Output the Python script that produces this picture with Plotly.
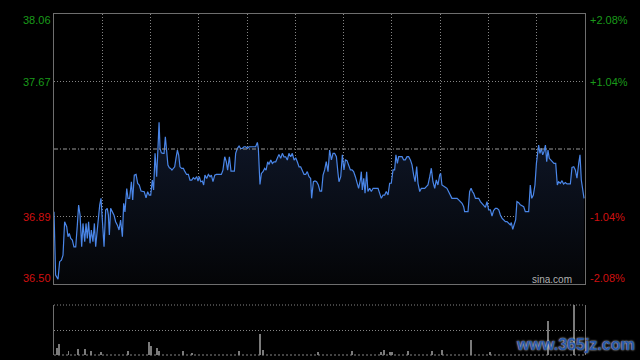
import plotly.graph_objects as go

# ---- data (minutes after 09:30, HK session) ----
prev_close = 37.28

times = [
    0, 1.0, 2.5, 3.5, 4.6, 5.6, 6.6, 7.9, 8.7, 9.5,
    10.4, 11.4, 12.4, 13.5, 14.5, 15.3, 16.2, 17.2, 18.0, 19.1,
    19.9, 20.7, 21.5, 22.4, 23.2, 24.2, 25.1, 25.9, 26.9, 27.8,
    28.4, 29.2, 30.0, 31.1, 32.1, 33.1, 33.8, 34.4, 35.2, 36.3,
    37.3, 38.3, 39.4, 40.4, 41.4, 42.5, 43.3, 44.1, 45.2, 46.0,
    47.0, 48.1, 48.9, 49.9, 51.0, 52.0, 53.0, 54.1, 55.1, 56.1,
    57.2, 58.2, 59.2, 60.1, 61.1, 61.9, 62.8, 63.8, 64.6, 65.3,
    65.9, 66.7, 67.7, 68.4, 69.2, 70.0, 70.8, 71.7, 72.5, 73.3,
    74.2, 75.0, 75.8, 76.7, 77.5, 78.3, 79.3, 80.4, 81.4, 82.4,
    83.5, 84.5, 85.6, 86.6, 87.6, 88.7, 89.5, 90.3, 91.2, 92.2,
    93.0, 93.8, 94.9, 95.9, 97.0, 97.8, 98.8, 99.9, 100.9, 101.9,
    103.0, 104.0, 105.0, 106.1, 107.1, 107.9, 109.0, 110.0, 111.0, 112.1,
    112.9, 113.9, 115.0, 116.0, 117.0, 118.1, 119.1, 120.2, 121.2, 122.2,
    123.3, 124.3, 125.3, 126.4, 127.0, 128.0, 128.9, 129.9, 130.9, 131.8,
    132.8, 133.6, 134.7, 135.7, 136.7, 137.8, 138.8, 139.8, 140.9, 141.9,
    142.9, 144.0, 145.0, 146.0, 147.1, 148.1, 149.2, 150.2, 151.2, 152.3,
    153.3, 154.3, 155.4, 156.4, 157.4, 158.5, 159.5, 160.1, 161.2, 162.2,
    163.2, 164.3, 165.3, 166.3, 167.2, 168.2, 169.2, 170.3, 171.3, 172.4,
    173.4, 174.4, 175.5, 176.5, 177.1, 178.2, 179.2, 180.2, 181.1, 182.1,
    183.1, 184.2, 185.2, 186.2, 187.3, 188.3, 189.3, 190.4, 191.0, 191.6,
    192.5, 193.3, 194.3, 195.1, 196.2, 197.2, 198.3, 199.3, 200.3, 201.4,
    202.4, 203.4, 204.5, 205.5, 206.5, 207.6, 208.6, 209.6, 210.7, 211.7,
    212.5, 213.4, 214.2, 215.2, 216.3, 217.3, 218.3, 219.4, 220.4, 221.5,
    222.5, 223.5, 224.4, 225.4, 226.2, 227.3, 228.3, 229.3, 230.4, 231.4,
    232.4, 233.5, 234.5, 235.5, 236.6, 237.6, 238.6, 239.7, 240.3, 241.1,
    242.2, 243.2, 244.2, 245.3, 246.3, 247.3, 248.4, 249.4, 250.5, 251.5,
    252.5, 253.6, 254.6, 255.2, 256.3, 257.3, 258.3, 259.2, 260.0, 260.8,
    261.9, 262.9, 263.9, 265.0, 266.0, 267.0, 268.1, 269.1, 270.1, 271.2,
    272.2, 273.2, 274.3, 275.3, 276.4, 277.4, 278.4, 279.5, 280.5, 281.5,
    282.6, 283.6, 284.2, 285.1, 285.9, 286.9, 287.7, 288.8, 289.8, 290.9,
    291.9, 292.9, 294.0, 295.0, 296.0, 296.9, 297.9, 298.9, 299.8, 300.6,
    301.2, 302.0, 302.9, 303.7, 304.5, 305.4, 306.2, 307.0, 307.8, 308.7,
    309.7, 310.7, 311.8, 312.8, 313.6, 314.7, 315.7, 316.7, 317.8, 318.8,
    319.9, 320.9, 321.9, 323.0, 324.0, 325.0, 326.1, 326.9, 327.7, 328.8,
    329.4,
]

prices = [
    36.917, 36.552, 36.528, 36.629, 36.638, 36.667, 36.860, 36.831, 36.773, 36.792,
    36.763, 36.754, 36.715, 36.715, 36.840, 36.956, 36.898, 36.715, 36.850, 36.744,
    36.850, 36.763, 36.860, 36.735, 36.812, 36.744, 36.850, 36.715, 36.812, 36.917,
    36.956, 36.995, 36.898, 36.715, 36.927, 36.937, 36.898, 36.783, 36.937, 36.917,
    36.898, 36.860, 36.840, 36.812, 36.869, 36.773, 36.966, 36.917, 37.052, 36.995,
    36.995, 37.091, 36.985, 37.129, 37.133, 37.081, 37.072, 37.037, 37.033, 37.033,
    36.998, 37.033, 37.014, 37.014, 37.100, 37.043, 37.255, 37.120, 37.283, 37.434,
    37.283, 37.258, 37.255, 37.255, 37.351, 37.264, 37.187, 37.172, 37.168, 37.158,
    37.168, 37.177, 37.226, 37.274, 37.245, 37.177, 37.168, 37.168, 37.149, 37.133,
    37.133, 37.100, 37.100, 37.114, 37.106, 37.120, 37.095, 37.120, 37.091, 37.095,
    37.072, 37.129, 37.110, 37.133, 37.120, 37.129, 37.091, 37.129, 37.133, 37.133,
    37.133, 37.133, 37.158, 37.235, 37.206, 37.158, 37.235, 37.152, 37.152, 37.152,
    37.255, 37.283, 37.297, 37.283, 37.283, 37.293, 37.293, 37.283, 37.293, 37.293,
    37.293, 37.293, 37.293, 37.318, 37.283, 37.075, 37.139, 37.149, 37.168, 37.158,
    37.206, 37.191, 37.216, 37.197, 37.206, 37.206, 37.226, 37.249, 37.226, 37.255,
    37.235, 37.235, 37.216, 37.255, 37.235, 37.255, 37.216, 37.229, 37.206, 37.177,
    37.177, 37.158, 37.133, 37.133, 37.149, 37.120, 37.110, 36.995, 37.091, 37.095,
    37.091, 37.072, 37.037, 37.037, 37.129, 37.159, 37.207, 37.149, 37.274, 37.217,
    37.255, 37.255, 37.236, 37.140, 37.091, 37.120, 37.246, 37.159, 37.217, 37.213,
    37.188, 37.159, 37.159, 37.149, 37.120, 37.091, 37.053, 37.101, 37.149, 37.043,
    37.111, 37.024, 37.149, 37.034, 37.053, 37.034, 37.053, 37.053, 37.053, 37.053,
    37.024, 36.995, 37.014, 37.014, 37.034, 37.014, 37.082, 37.082, 37.159, 37.159,
    37.246, 37.197, 37.236, 37.236, 37.236, 37.217, 37.217, 37.236, 37.236, 37.217,
    37.188, 37.130, 37.091, 37.178, 37.082, 37.034, 37.053, 37.053, 37.053, 37.063,
    37.072, 37.120, 37.169, 37.091, 37.053, 37.101, 37.072, 37.130, 37.140, 37.072,
    37.063, 37.059, 37.053, 37.034, 37.014, 36.995, 36.995, 36.995, 36.995, 36.986,
    36.976, 36.966, 36.947, 36.918, 36.918, 36.918, 37.034, 37.053, 37.034, 37.024,
    36.995, 36.995, 36.995, 36.976, 36.966, 36.951, 36.943, 36.976, 36.928, 36.928,
    36.893, 36.924, 36.937, 36.937, 36.928, 36.899, 36.880, 36.870, 36.860, 36.860,
    36.851, 36.841, 36.855, 36.816, 36.841, 36.870, 36.976, 36.970, 36.957, 36.951,
    36.947, 36.918, 36.918, 36.918, 37.072, 36.995, 37.014, 37.072, 37.197, 37.274,
    37.303, 37.255, 37.284, 37.246, 37.265, 37.303, 37.207, 37.274, 37.226, 37.217,
    37.207, 37.197, 37.197, 37.072, 37.091, 37.082, 37.097, 37.078, 37.086, 37.078,
    37.078, 37.078, 37.174, 37.178, 37.159, 37.111, 37.197, 37.246, 37.101, 37.034,
    36.995,
]
assert len(times) == len(prices)

vol_times = [2, 3, 9, 15, 19, 23, 29, 46, 59, 60, 64, 65, 80, 86, 115, 128, 130,
             164, 185, 203, 205, 209, 210, 220, 235, 241, 259, 271, 307, 323]
volumes = [7, 11, 4, 6, 6, 4, 3, 4, 13, 9, 7, 4, 4, 2, 4, 21, 5,
           3, 4, 3, 5, 3, 3, 4, 4, 5, 15, 3, 34, 50]

left_vals = [38.06, 37.67, 36.89, 36.50]
left_labels = ["38.06", "37.67", "36.89", "36.50"]
right_labels = ["+2.08%", "+1.04%", "-1.04%", "-2.08%"]
grid_minutes = [30, 60, 90, 120, 150, 180, 210, 240, 270, 300]
session_minutes = 330

GRID = "#858585"
BORDER = "#6e6e6e"
GREEN = "#1a9a1a"
RED = "#d01010"

fig = go.Figure()

fig.add_trace(go.Scatter(
    x=times, y=prices, mode="lines",
    line=dict(color="#4a86e8", width=1.2),
    fill="tozeroy",
    fillgradient=dict(type="vertical",
                      colorscale=[[0, "#040507"], [1, "#0f1729"]],
                      start=left_vals[-1], stop=max(prices)),
    hoverinfo="skip", showlegend=False,
    xaxis="x", yaxis="y",
))

fig.add_trace(go.Bar(
    x=vol_times, y=volumes, width=0.6,
    marker=dict(color="#7a7a7a", line=dict(width=0)),
    hoverinfo="skip", showlegend=False,
    xaxis="x2", yaxis="y2",
))

font = "Liberation Sans, Arial, sans-serif"
main_bottom = 71 / 341
vol_top = 50 / 341

fig.update_layout(
    width=640, height=360,
    margin=dict(l=54, r=55, t=14, b=5),
    paper_bgcolor="black", plot_bgcolor="black",
    font=dict(family=font, size=11, color="#aaaaaa"),
    bargap=0,
    xaxis=dict(domain=[0, 1], range=[0, session_minutes], tickvals=grid_minutes,
               showticklabels=False, ticks="", showgrid=True, gridcolor=GRID,
               griddash="1px,2px", gridwidth=1, zeroline=False,
               showline=True, mirror=True, linecolor=BORDER, linewidth=1),
    yaxis=dict(domain=[main_bottom, 1], range=[left_vals[-1], left_vals[0]],
               tickvals=[left_vals[1], left_vals[2]], showticklabels=False, ticks="",
               showgrid=True, gridcolor=GRID, griddash="1px,2px", gridwidth=1,
               zeroline=False, showline=True, mirror=True, linecolor=BORDER, linewidth=1),
    xaxis2=dict(domain=[0, 1], range=[0, session_minutes], anchor="y2",
                showticklabels=False, ticks="", showgrid=False, zeroline=False,
                showline=False),
    yaxis2=dict(domain=[0, vol_top], range=[0, max(volumes)], anchor="x2",
                tickvals=[max(volumes) / 2], showticklabels=False, ticks="",
                showgrid=True, gridcolor=GRID, griddash="1px,2px", gridwidth=1,
                zeroline=False, showline=True, mirror=True, linecolor=BORDER, linewidth=1),
)

shapes = [
    dict(type="line", xref="x domain", yref="y", x0=0, x1=1, y0=prev_close, y1=prev_close,
         line=dict(color="#9a9a9a", width=1, dash="4px,2px,1px,2px"), layer="above"),
    dict(type="line", xref="x2 domain", yref="y2 domain", x0=0, x1=1, y0=1, y1=1,
         line=dict(color=GRID, width=1, dash="1px,2px")),
    dict(type="line", xref="x2 domain", yref="y2 domain", x0=0, x1=1, y0=0, y1=0,
         line=dict(color=GRID, width=1, dash="2px,2px")),
]
fig.update_layout(shapes=shapes)

annotations = []
shifts = [-6, 0, 0, 6]
for v, ll, rl, s in zip(left_vals, left_labels, right_labels, shifts):
    col = GREEN if v > prev_close else RED
    annotations.append(dict(xref="paper", yref="y", x=0, y=v, text=ll, showarrow=False,
                            xanchor="right", yanchor="middle", xshift=-1, yshift=s,
                            font=dict(family=font, size=11, color=col)))
    annotations.append(dict(xref="paper", yref="y", x=1, y=v, text=rl, showarrow=False,
                            xanchor="left", yanchor="middle", xshift=3, yshift=s,
                            font=dict(family=font, size=11, color=col)))
annotations.append(dict(xref="paper", yref="y", x=1, y=left_vals[-1], text="sina.com",
                        showarrow=False, xanchor="right", yanchor="middle",
                        xshift=-11, yshift=5,
                        font=dict(family=font, size=10, color="#b0b0b0")))
annotations.append(dict(xref="paper", yref="paper", x=1.097, y=0.03, text="<b>www.365jz.com</b>",
                        showarrow=False, xanchor="right", yanchor="middle",
                        font=dict(family=font, size=16, color="#2858a8",
                                  shadow="0px 0px 2px #ffffff")))
fig.update_layout(annotations=annotations)

fig.write_html("out.html")
